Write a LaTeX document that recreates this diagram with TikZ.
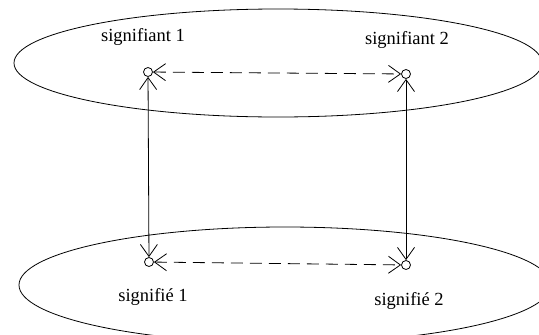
\documentclass[tikz,border=0pt]{standalone}
\usepackage{fontspec}
\setmainfont{Liberation Serif}
\usetikzlibrary{arrows.meta}
\begin{document}
\begin{tikzpicture}[x=1pt,y=-1pt,line width=0.8pt,
  pt/.style={circle,draw,inner sep=0pt,minimum size=9pt},
  lbl/.style={font=\fontsize{18.5}{22}\selectfont},
  conn/.style={{Straight Barb[length=12pt,width=17pt]}-{Straight Barb[length=12pt,width=17pt]}},
  dsh/.style={conn,dash pattern=on 12pt off 7pt}]
\useasboundingbox (0,0) rectangle (539,335);
\fill[white] (0,0) rectangle (539,335);
\draw (278,63) ellipse [x radius=264, y radius=54];
\draw (285,285) ellipse [x radius=266, y radius=58];
\node[pt] (a1) at (148,72) {};
\node[pt] (a2) at (406,74) {};
\node[pt] (b1) at (149,262) {};
\node[pt] (b2) at (406,265) {};
\node[lbl] (la1) at (143,37) {signifiant 1};
\node[lbl] (la2) at (407,40) {signifiant 2};
\node[lbl] (lb1) at (153,297) {signifié 1};
\node[lbl] (lb2) at (409,301) {signifié 2};
\draw[conn] (a1) -- (b1);
\draw[conn] (a2) -- (b2);
\draw[dsh] (a1) -- (a2);
\draw[dsh] (b1) -- (b2);
\end{tikzpicture}
\end{document}
